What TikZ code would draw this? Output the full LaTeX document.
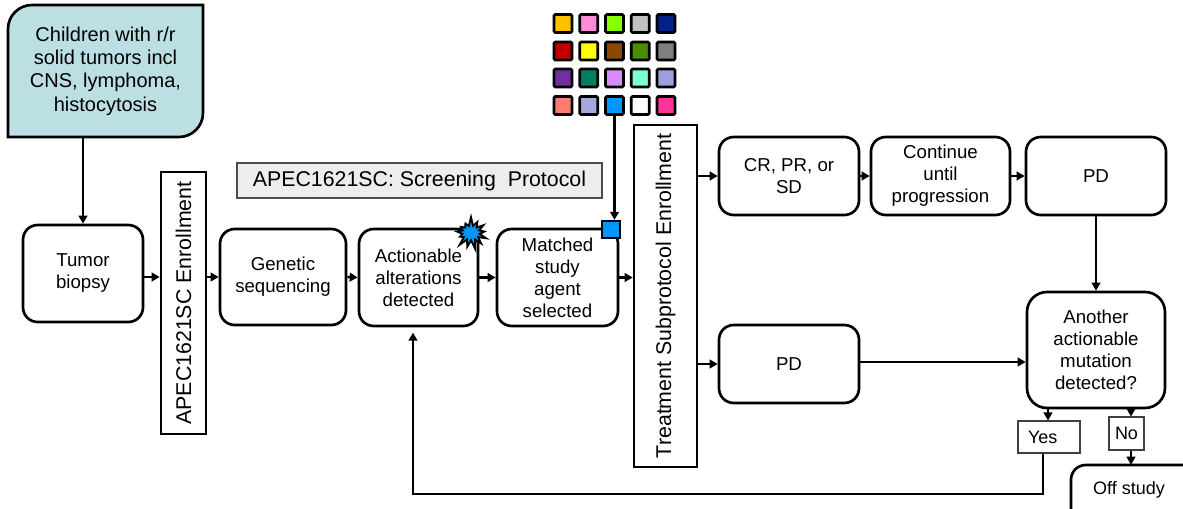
\documentclass[tikz,border=0pt]{standalone}
\usepackage{fontspec}
\setmainfont{Liberation Sans}
\usetikzlibrary{arrows.meta,shapes.symbols}
\definecolor{tealfill}{RGB}{187,223,226}
\definecolor{starblue}{RGB}{0,150,255}
\definecolor{protofill}{RGB}{237,237,237}
\definecolor{g11}{HTML}{FFC000}\definecolor{g12}{HTML}{FF88D8}\definecolor{g13}{HTML}{88FF00}\definecolor{g14}{HTML}{C0C0C0}\definecolor{g15}{HTML}{00208C}
\definecolor{g21}{HTML}{C00000}\definecolor{g22}{HTML}{FFFF00}\definecolor{g23}{HTML}{8B4800}\definecolor{g24}{HTML}{4C8C00}\definecolor{g25}{HTML}{7F7F7F}
\definecolor{g31}{HTML}{7030A0}\definecolor{g32}{HTML}{008060}\definecolor{g33}{HTML}{D88CFF}\definecolor{g34}{HTML}{78FFD8}\definecolor{g35}{HTML}{A0A0E0}
\definecolor{g41}{HTML}{FF7C70}\definecolor{g42}{HTML}{A8A8E0}\definecolor{g43}{HTML}{0096FF}\definecolor{g44}{HTML}{FFFFFF}\definecolor{g45}{HTML}{FF3399}
\begin{document}
\begin{tikzpicture}[x=0.75pt,y=-0.75pt,
  box/.style={draw=black, line width=2pt, rounded corners=11pt, align=center,
    font=\fontsize{14}{16.5}\selectfont, inner sep=2pt},
  vbox/.style={draw=black, line width=2pt, rotate=90,
    font=\fontsize{16}{19}\selectfont, inner sep=0pt},
  arr/.style={line width=1.8pt, -{Triangle[length=6pt,width=6.5pt]}},
  sq/.style={draw=black, line width=2pt, minimum size=13.5pt, inner sep=0pt, rounded corners=1pt},
  lbl/.style={draw=black!75, line width=0.8pt, font=\fontsize{13.5}{16}\selectfont, inner sep=0pt},
]
\path[use as bounding box, clip] (0,0) rectangle (1183,508);

% top-left population box
\filldraw[fill=tealfill, draw=black, line width=2pt]
  (8,137) -- (8,29) arc[start angle=180, end angle=270, radius=24]
  -- (203,5) -- (203,113) arc[start angle=0, end angle=90, radius=24] -- cycle;
\node[align=center, font=\fontsize{15}{17.5}\selectfont, minimum width=146.25pt, minimum height=99pt, inner sep=0pt]
  (children) at (105.5,71) {Children with r/r\\solid tumors incl\\CNS, lymphoma,\\histocytosis};

% main flow
\node[box, minimum width=90pt, minimum height=72.75pt] (tumor) at (83,273.5) {Tumor\\biopsy};
\node[vbox, minimum width=196.5pt, minimum height=33.75pt] (enr1) at (183.5,303) {APEC1621SC Enrollment};
\node[box, minimum width=94.5pt, minimum height=72pt] (gen) at (283,277) {Genetic\\sequencing};
\node[box, minimum width=89.25pt, minimum height=72.75pt] (act) at (418.5,277.5) {Actionable\\alterations\\detected};
\node[box, minimum width=90.75pt, minimum height=72.75pt] (mat) at (557.5,277.5) {Matched\\study\\agent\\selected};
\node[vbox, minimum width=256.5pt, minimum height=47.25pt] (treat) at (665.5,296) {Treatment Subprotocol Enrollment};
\node[box, minimum width=105pt, minimum height=58.5pt] (cr) at (789,176) {CR, PR, or\\SD};
\node[box, minimum width=105pt, minimum height=58.5pt] (pdl) at (789,364) {PD};
\node[box, minimum width=104.25pt, minimum height=58.5pt] (cont) at (940.5,176) {Continue\\until\\progression};
\node[box, minimum width=105pt, minimum height=58.5pt] (pdt) at (1096,176) {PD};
\node[box, rounded corners=15pt, minimum width=103.5pt, minimum height=87pt] (another) at (1096,350) {Another\\actionable\\mutation\\detected?};

% protocol label
\node[draw=black!70, fill=protofill, line width=0.8pt, minimum width=273.75pt, minimum height=26.25pt,
  font=\fontsize{16}{19}\selectfont, inner sep=0pt] (proto) at (419.5,180.5) {APEC1621SC: Screening~~Protocol};

% colour grid
\foreach \r/\yy in {1/23.5,2/51,3/78,4/105.5}{
  \foreach \k in {1,...,5}{
    \node[sq, fill=g\r\k] (g\r\k) at ({563+25.75*(\k-1)},\yy) {};
  }
}

% markers
\node[starburst, starburst points=13, starburst point height=7pt, random starburst=7,
  fill=starblue, draw=black, line width=1.4pt, minimum width=27pt, minimum height=25pt, inner sep=0pt]
  (burst) at (471,233) {};
\node[draw=black, line width=1.5pt, fill=starblue, minimum size=13pt, inner sep=0pt] (bluetag) at (611,229.5) {};

% Yes / No / Off study
\node[lbl, text width=31.5pt, inner xsep=7.5pt, align=left, minimum height=24pt] (yes) at (1049,437) {Yes};
\node[lbl, minimum width=26.25pt, minimum height=24.75pt] (no) at (1126.5,433.5) {No};
\draw[line width=2pt, rounded corners=11pt] (1071,530) -- (1071,465) -- (1200,465);
\node[font=\fontsize{13.5}{16}\selectfont, minimum height=36.75pt, inner sep=0pt] (offstudy) at (1129,489.5) {Off study};

\coordinate (yx) at (1048,0);
\coordinate (nx) at (1131,0);
\coordinate (lx) at (1043,0);
\coordinate (loopL) at (413,494);

% connectors (rotated boxes: north = left side, south = right side)
\draw[arr] (tumor.north |- children.south) -- (tumor.north);
\draw[arr] (tumor.east |- gen.west) -- (enr1.north |- gen.west);
\draw[arr] (enr1.south |- gen.west) -- (gen.west);
\draw[arr] (gen.east) -- (act.west);
\draw[arr] (act.east) -- (mat.west);
\draw[arr] (mat.east) -- (mat.east -| treat.north);
\draw[arr] (treat.south |- cr.west) -- (cr.west);
\draw[arr] (treat.south |- pdl.west) -- (pdl.west);
\draw[arr] (cr.east) -- (cont.west);
\draw[arr] (cont.east) -- (pdt.west);
\draw[arr] (pdt.south) -- (another.north);
\draw[arr] ([yshift=1.5pt]pdl.east) -- ([yshift=1.5pt]pdl.east -| another.west);
\draw[arr] (another.south -| yx) -- (yes.north -| yx);
\draw[arr] (another.south -| nx) -- (no.north -| nx);
\draw[arr] (no.south -| nx) -- (offstudy.north -| nx);
\draw[arr, shorten >=4pt] (yes.south -| lx) |- (loopL) -- (loopL |- act.south);
\draw[arr] (g43.south) -- (g43.south |- bluetag.north);
\end{tikzpicture}
\end{document}
